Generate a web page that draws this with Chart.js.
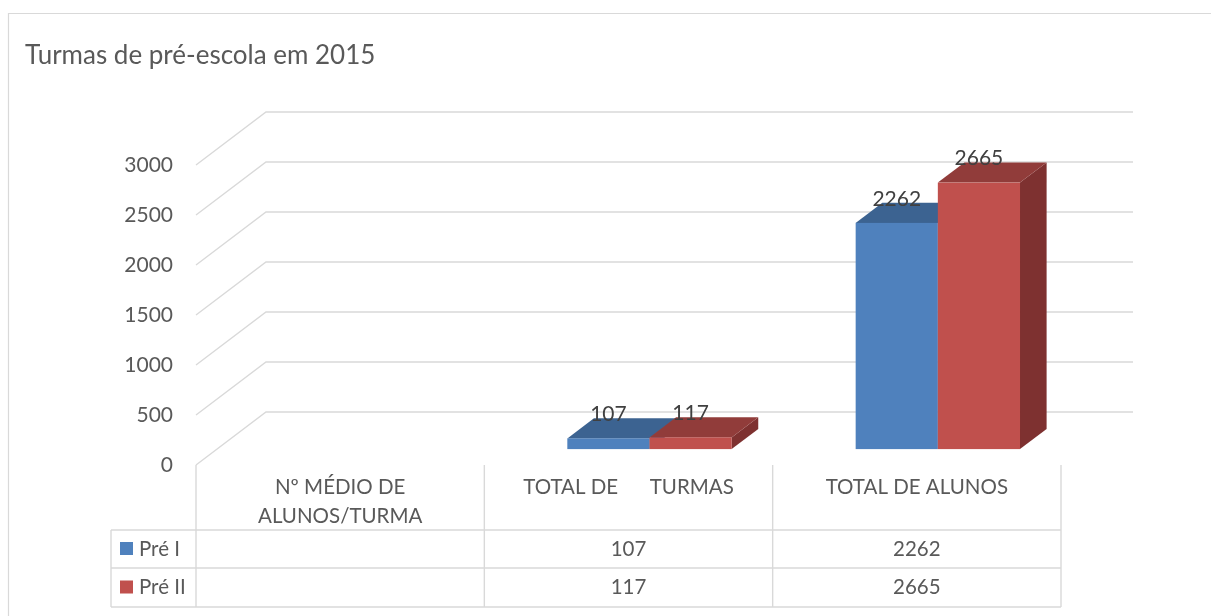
<!DOCTYPE html>
<html><head><meta charset="utf-8">
<script src="https://cdn.jsdelivr.net/npm/chart.js@4"></script>
<style>html,body{margin:0;padding:0;background:#fff}canvas{display:block}</style>
</head><body>
<canvas id="c" width="1211" height="616"></canvas>
<script>
// ---- data ----
const chartTitle = 'Turmas de pré-escola em 2015';
const categories = [['Nº MÉDIO DE', 'ALUNOS/TURMA'], ['TOTAL DE      TURMAS'], ['TOTAL DE ALUNOS']];
const seriesNames = ['Pré I', 'Pré II'];
const preI = [null, 107, 2262];
const preII = [null, 117, 2665];
const yTickValues = [0, 500, 1000, 1500, 2000, 2500, 3000];

// ---- styles ----
const FONT = 'Lato';
const TEXT = '#595959';
const GRID = '#D9D9D9';
const TABLE_FONT = 20.5;
const faces = [
  { front: '#4F81BD', top: '#3C6391', side: '#355783' },
  { front: '#C0504D', top: '#913C3A', side: '#7E3130' }
];
const WALL = { dx: 70, dy: -53 };      // full depth of the 3D floor
const BAR_OFF = 0.30;                  // bar front plane position in depth
const BAR_DEPTH = 0.38;                // bar depth fraction
const TABLE = { left: 111, rowTops: [530, 568], bottom: 607 };

const threeD = {
  id: 'threeD',
  beforeDatasetsDraw(chart) {
    const { ctx, chartArea: a, scales: { y } } = chart;
    ctx.save();
    ctx.strokeStyle = GRID;
    ctx.lineWidth = 1.4;
    y.ticks.forEach(t => {
      const py = y.getPixelForValue(t.value);
      ctx.beginPath();
      ctx.moveTo(a.left, py);
      ctx.lineTo(a.left + WALL.dx, py + WALL.dy);
      ctx.lineTo(a.right + WALL.dx + 2, py + WALL.dy);
      ctx.stroke();
    });
    ctx.restore();
  },
  beforeDatasetDraw() { return false; },
  afterDatasetsDraw(chart) {
    const { ctx } = chart;
    const ox = WALL.dx * BAR_OFF, oy = WALL.dy * BAR_OFF;
    const dx = WALL.dx * BAR_DEPTH, dy = WALL.dy * BAR_DEPTH;
    const n = chart.data.labels.length;
    ctx.save();
    for (let i = 0; i < n; i++) {
      chart.data.datasets.forEach((ds, d) => {
        const v = ds.data[i];
        if (v === null || v === undefined) return;
        const el = chart.getDatasetMeta(d).data[i];
        const x0 = el.x - el.width / 2 + ox, x1 = el.x + el.width / 2 + ox;
        const yt = el.y + oy, yb = el.base + oy;
        const f = faces[d];
        ctx.fillStyle = f.side;
        ctx.beginPath();
        ctx.moveTo(x1, yt); ctx.lineTo(x1 + dx, yt + dy); ctx.lineTo(x1 + dx, yb + dy); ctx.lineTo(x1, yb);
        ctx.closePath(); ctx.fill();
        ctx.fillStyle = f.top;
        ctx.beginPath();
        ctx.moveTo(x0, yt); ctx.lineTo(x1, yt); ctx.lineTo(x1 + dx, yt + dy); ctx.lineTo(x0 + dx, yt + dy);
        ctx.closePath(); ctx.fill();
        ctx.fillStyle = f.front;
        ctx.fillRect(x0, yt, x1 - x0, yb - yt);
      });
    }
    ctx.fillStyle = '#404040';
    ctx.font = '21px ' + FONT;
    ctx.textAlign = 'center';
    ctx.textBaseline = 'middle';
    for (let i = 0; i < n; i++) {
      chart.data.datasets.forEach((ds, d) => {
        const v = ds.data[i];
        if (v === null || v === undefined) return;
        const el = chart.getDatasetMeta(d).data[i];
        ctx.fillText(String(v), el.x + ox, el.y + oy - 24);
      });
    }
    ctx.restore();
  },
  afterDraw(chart) {
    const { ctx, chartArea: a, scales: { x } } = chart;
    const n = chart.data.labels.length;
    const w = (a.right - a.left) / n;
    ctx.save();
    ctx.strokeStyle = GRID;
    ctx.lineWidth = 1.2;
    ctx.beginPath();
    ctx.moveTo(8.5, 616); ctx.lineTo(8.5, 13.5); ctx.lineTo(1211, 13.5);
    ctx.stroke();
    ctx.lineWidth = 1.4;
    ctx.beginPath();
    for (let k = 0; k <= n; k++) {
      const px = a.left + k * w;
      ctx.moveTo(px, a.bottom); ctx.lineTo(px, TABLE.bottom);
    }
    [...TABLE.rowTops, TABLE.bottom].forEach(ry => { ctx.moveTo(TABLE.left, ry); ctx.lineTo(a.right, ry); });
    ctx.moveTo(TABLE.left, TABLE.rowTops[0]); ctx.lineTo(TABLE.left, TABLE.bottom);
    ctx.stroke();
    ctx.font = TABLE_FONT + 'px ' + FONT;
    ctx.textBaseline = 'middle';
    const rowBottoms = [TABLE.rowTops[1], TABLE.bottom];
    chart.data.datasets.forEach((ds, d) => {
      const cy = (TABLE.rowTops[d] + rowBottoms[d]) / 2;
      ctx.fillStyle = faces[d].front;
      ctx.fillRect(120, cy - 7, 13, 13);
      ctx.fillStyle = TEXT;
      ctx.textAlign = 'left';
      ctx.fillText(ds.label, 139, cy);
      ctx.textAlign = 'center';
      ds.data.forEach((v, i) => {
        if (v === null || v === undefined) return;
        ctx.fillText(String(v), x.getPixelForValue(i), cy);
      });
    });
    ctx.restore();
  }
};

new Chart(document.getElementById('c'), {
  type: 'bar',
  data: {
    labels: categories,
    datasets: [
      { label: seriesNames[0], data: preI, backgroundColor: faces[0].front },
      { label: seriesNames[1], data: preII, backgroundColor: faces[1].front }
    ]
  },
  options: {
    responsive: false,
    animation: false,
    devicePixelRatio: 1,
    categoryPercentage: 0.57,
    barPercentage: 1.0,
    layout: { padding: { left: 25, right: 150, top: 0, bottom: 0 } },
    plugins: {
      legend: { display: false },
      tooltip: { enabled: false },
      title: {
        display: true, text: chartTitle, align: 'start', color: TEXT,
        font: { family: FONT, size: 26, weight: 'normal', lineHeight: 1.2 },
        padding: { top: 40, bottom: 93.8 }
      }
    },
    scales: {
      x: {
        grid: { display: false, drawTicks: false },
        border: { display: false },
        ticks: { color: TEXT, font: { family: FONT, size: TABLE_FONT, lineHeight: 1.41 }, padding: 8, maxRotation: 0, autoSkip: false },
        afterFit(s) { s.height = 151; }
      },
      y: {
        min: 0, max: 3000,
        afterBuildTicks(s) { s.ticks = yTickValues.map(v => ({ value: v })); },
        grid: { display: false, drawTicks: false },
        border: { display: false },
        ticks: { color: TEXT, font: { family: FONT, size: 21 }, padding: 23, callback: v => String(v) },
        afterFit(s) { s.width = 171; }
      }
    }
  },
  plugins: [threeD]
});
</script>
</body></html>
